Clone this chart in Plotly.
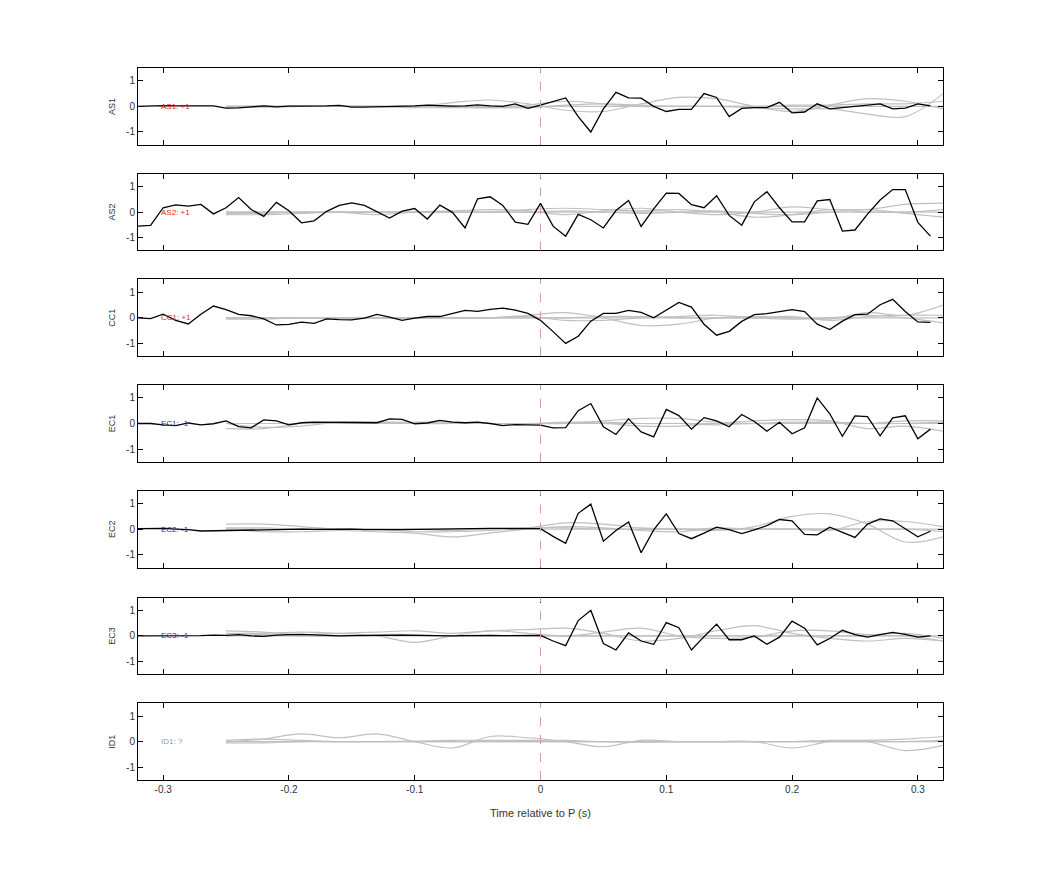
import numpy as np
import plotly.graph_objects as go

stations = ["AS1", "AS2", "CC1", "EC1", "EC2", "EC3", "ID1"]
labels = ["AS1: +1", "AS2: +1", "CC1: +1", "EC1: -1", "EC2: -1", "EC3: -1", "ID1: ?"]
label_colors = ["#e31a1c", "#e31a1c", "#e31a1c", "#1f1fbf", "#1f1fbf", "#1f1fbf", "#999999"]

t_black = [round(-0.32 + 0.01 * i, 2) for i in range(64)]

as1 = [0, 0.02, 0.03, 0.02, 0.02, 0.02, 0.02, -0.07, -0.06, -0.02, 0.02, -0.02, 0.01, 0.01, 0.01, 0.02,
       0.04, -0.03, -0.03, -0.02, 0.0, 0.01, 0.02, 0.05, 0.02, 0.01, 0.02, 0.06, 0.02, 0.0, 0.1, -0.08,
       0.05, 0.2, 0.33, -0.4, -1.0, -0.1, 0.55, 0.33, 0.32, 0.0, -0.2, -0.12, -0.12, 0.5, 0.35, -0.4,
       -0.08, -0.05, -0.05, 0.16, -0.25, -0.22, 0.1, -0.1, -0.05, 0.0, 0.05, 0.1, -0.1, -0.07, 0.1, 0.02]
as2 = [-0.55, -0.52, 0.17, 0.28, 0.23, 0.3, -0.07, 0.17, 0.57, 0.1, -0.17, 0.38, 0.05, -0.42, -0.34, 0.03,
       0.26, 0.36, 0.26, 0.01, -0.23, 0.04, 0.14, -0.27, 0.27, -0.01, -0.62, 0.52, 0.6, 0.26, -0.39, -0.48,
       0.34, -0.55, -0.94, -0.09, -0.3, -0.62, 0.06, 0.45, -0.56, 0.13, 0.74, 0.73, 0.29, 0.17, 0.64, -0.13,
       -0.51, 0.4, 0.8, 0.17, -0.38, -0.38, 0.44, 0.49, -0.74, -0.7, -0.08, 0.47, 0.88, 0.88, -0.4, -0.94]
cc1 = [0, -0.03, 0.14, -0.1, -0.24, 0.14, 0.46, 0.32, 0.13, 0.08, -0.04, -0.28, -0.26, -0.17, -0.22, -0.04,
       -0.07, -0.08, -0.01, 0.13, 0.03, -0.1, -0.01, 0.05, 0.05, 0.16, 0.29, 0.25, 0.33, 0.38, 0.3, 0.17,
       -0.1, -0.54, -1.0, -0.72, -0.13, 0.17, 0.17, 0.29, 0.21, 0.0, 0.29, 0.6, 0.42, -0.25, -0.68, -0.53,
       -0.14, 0.12, 0.16, 0.24, 0.32, 0.24, -0.25, -0.46, -0.13, 0.12, 0.14, 0.51, 0.72, 0.25, -0.16, -0.18]
ec1 = [0, 0, -0.05, -0.08, 0.02, -0.05, -0.01, 0.1, -0.12, -0.17, 0.14, 0.1, -0.05, 0.03, 0.05, 0.05,
       0.05, 0.05, 0.05, 0.03, 0.18, 0.16, -0.01, 0.02, 0.12, 0.05, 0.03, 0.05, 0.0, -0.08, -0.04, -0.04,
       -0.06, -0.17, -0.16, 0.5, 0.78, -0.13, -0.43, 0.18, -0.33, -0.52, 0.55, 0.31, -0.22, 0.23, 0.1, -0.13,
       0.35, 0.08, -0.3, 0.05, -0.4, -0.17, 1.0, 0.38, -0.5, 0.3, 0.27, -0.48, 0.22, 0.3, -0.6, -0.22]
ec2 = [0.02, 0.03, 0.03, 0.0, -0.02, -0.07, -0.06, -0.05, -0.03, -0.02, -0.01, 0.0, 0.0, 0.0, -0.01, 0.0,
       0.01, 0.0, -0.02, -0.03, -0.02, -0.02, -0.01, -0.01, 0.0, 0.01, 0.02, 0.02, 0.03, 0.03, 0.03, 0.03,
       0.02, -0.28, -0.55, 0.62, 0.98, -0.47, -0.05, 0.28, -0.92, -0.03, 0.6, -0.17, -0.37, -0.15, 0.08, -0.02,
       -0.17, -0.03, 0.14, 0.38, 0.33, -0.2, -0.22, 0.08, -0.12, -0.32, 0.2, 0.4, 0.33, 0.0, -0.3, -0.08]
ec3 = [0.0, 0.0, 0.02, 0.0, 0.0, 0.01, 0.03, 0.02, 0.05, 0.0, -0.02, 0.03, 0.05, 0.06, 0.04, 0.02,
       0.0, 0.01, 0.02, 0.01, 0.02, 0.03, 0.02, 0.01, 0.0, 0.0, 0.01, 0.02, 0.02, 0.01, 0.01, 0.01,
       0.02, -0.2, -0.38, 0.6, 1.0, -0.3, -0.55, 0.12, -0.2, -0.33, 0.52, 0.32, -0.55, -0.03, 0.46, -0.15,
       -0.15, 0.0, -0.33, -0.05, 0.58, 0.3, -0.35, -0.1, 0.22, 0.05, -0.05, 0.05, 0.14, 0.06, -0.05, 0.0]
black_series = [as1, as2, cc1, ec1, ec2, ec3, None]

t_gray = [-0.25, -0.22, -0.19, -0.16, -0.13, -0.10, -0.07, -0.04, -0.01, 0.02,
          0.05, 0.08, 0.11, 0.14, 0.17, 0.20, 0.23, 0.26, 0.29, 0.32]
gray_series = [
    [[0, 0, 0, 0, 0, 0, 0, -0.05, -0.05, 0.05, 0.1, 0.05, 0, 0, 0, 0.05, 0.05, 0.1, 0.1, 0.2],
     [0, 0, 0, 0, 0, 0, 0.15, 0.25, 0.1, -0.15, -0.2, 0.1, 0.35, 0.3, 0, -0.2, 0.05, 0.3, 0.2, -0.1],
     [-0.05, -0.03, 0, 0, 0, -0.05, -0.05, -0.05, 0.05, 0.2, 0.1, 0, 0, 0, -0.05, -0.1, -0.1, -0.3, -0.4, 0.5],
     [0, 0, 0, 0, 0, 0, 0, 0, 0, 0, 0, 0, 0, 0, 0, 0, 0, 0, 0, 0]],
    [[0, 0, 0, 0, 0, 0, 0, 0, 0.1, 0.15, 0.1, 0.05, 0.1, 0, -0.2, -0.1, 0.1, 0, 0, 0.1],
     [-0.05, -0.05, 0, 0, -0.1, 0, 0.05, 0.1, 0.05, -0.1, 0.05, 0.15, 0, -0.1, 0, 0.2, 0.1, 0.1, 0.3, 0.35],
     [-0.1, -0.1, -0.05, 0, 0, 0, 0, 0, 0, 0.05, 0, -0.05, 0, 0.05, -0.05, -0.1, 0, 0.1, -0.05, -0.2],
     [0, 0, 0, 0, 0, 0, 0, 0, 0, 0, 0, 0, 0, 0, 0, 0, 0, 0, 0, 0]],
    [[0, 0, 0, 0, 0, 0, 0, 0, 0.1, 0.2, 0, -0.3, -0.25, 0, 0.05, 0, -0.05, 0.2, 0.1, 0.5],
     [-0.05, -0.05, 0, 0, 0, 0, 0, 0, 0.05, -0.1, -0.1, 0, 0.05, 0.1, 0, -0.05, 0, 0.1, 0, -0.2],
     [0, 0, 0, 0, 0, 0, 0, 0, 0, 0, 0.05, 0.05, 0, 0, 0, 0.05, -0.1, 0.05, 0.1, 0.1],
     [0, 0, 0, 0, 0, 0, 0, 0, 0, 0, 0, 0, 0, 0, 0, 0, 0, 0, 0, 0]],
    [[-0.2, -0.2, 0, 0.05, 0.05, 0.05, 0.05, 0, 0, 0, 0.1, 0.2, 0.2, 0.05, 0, 0, 0.05, 0, 0.1, 0.1],
     [0, -0.15, -0.1, 0.05, 0.05, 0, 0, 0, 0, 0, 0, -0.1, -0.1, 0, 0.1, 0.15, 0.1, -0.2, -0.1, -0.3],
     [0, 0, 0, 0, 0, 0, 0, 0, 0, 0.05, 0.05, 0, 0, -0.05, 0, 0.05, 0.05, 0, 0, 0.05],
     [0, 0, 0, 0, 0, 0, 0, 0, 0, 0, 0, 0, 0, 0, 0, 0, 0, 0, 0, 0]],
    [[0.2, 0.2, 0.1, 0, 0, -0.1, -0.1, -0.05, 0.05, 0.25, 0.2, 0.05, 0, -0.05, 0.1, 0.5, 0.6, 0.2, -0.5, -0.3],
     [0, -0.1, -0.1, -0.05, -0.1, -0.15, -0.3, -0.15, 0, 0.1, 0.05, -0.05, -0.1, 0.05, 0, 0, -0.05, 0.3, 0.3, 0.1],
     [0.05, 0.05, 0, 0, 0, 0, -0.05, 0, 0.05, 0.05, 0, 0, 0, 0, 0, 0, 0, 0, 0, -0.1],
     [0, 0, 0, 0, 0, 0, 0, 0, 0, 0, 0, 0, 0, 0, 0, 0, 0, 0, 0, 0]],
    [[0.2, 0.15, 0.05, 0.1, 0.15, 0.2, 0.1, 0.2, 0.25, 0.3, 0.1, -0.2, -0.1, 0.2, 0.4, 0.1, -0.1, -0.2, -0.1, -0.2],
     [0.1, 0.1, 0.15, 0.1, 0.0, -0.25, 0.0, 0.2, 0.1, 0.0, 0.15, 0.3, 0.0, -0.1, -0.05, 0.2, 0.2, 0.05, 0.1, -0.1],
     [0, 0.05, 0, 0, 0.05, 0.05, 0, 0, 0, 0, 0, 0, 0, 0, 0, 0, 0, 0, 0, -0.2],
     [0, 0, 0, 0, 0, 0, 0, 0, 0, 0, 0, 0, 0, 0, 0, 0, 0, 0, 0, 0]],
    [[0, 0.1, 0.3, 0.15, 0.3, 0, -0.25, 0.2, 0.15, 0, -0.2, 0.05, 0, 0, 0, -0.25, 0, 0, -0.35, -0.15],
     [0.05, 0.1, 0.05, 0, 0, 0.02, 0.05, 0.05, 0.05, 0.05, 0, -0.02, 0, 0, 0, 0, 0.05, 0.05, 0.1, 0.2],
     [-0.05, -0.05, 0, 0, 0, 0, 0, 0, 0, 0, 0, 0, 0, 0, 0, 0, 0, 0, 0, 0.05],
     [0, 0, 0, 0, 0, 0, 0, 0, 0, 0, 0, 0, 0, 0, 0, 0, 0, 0, 0, 0]],
]
x_ticks = [-0.3, -0.2, -0.1, 0, 0.1, 0.2, 0.3]
x_ticktext = ["-0.3", "-0.2", "-0.1", "0", "0.1", "0.2", "0.3"]
y_ticks = [-1, 0, 1]
y_ticktext = ["-1", "0", "1"]

H = 875.0
panel_px = [(66, 142), (172, 248), (278, 354), (384, 460), (490, 566), (597, 673), (703, 779)]


def adj(p):
    return p - 7 - 2.0 * (p - 66) / 713.0 + 2.0


fig = go.Figure()
layout = dict(width=1042, height=875, margin=dict(l=130, r=107, t=0, b=0),
              paper_bgcolor="white", plot_bgcolor="white", showlegend=False,
              font=dict(family="Liberation Sans, Arial, sans-serif", size=10, color="#333333"))
annotations = []
shapes = []
for i, st in enumerate(stations):
    n = i + 1
    xa = "x" if n == 1 else f"x{n}"
    ya = "y" if n == 1 else f"y{n}"
    top, bot = adj(panel_px[i][0]) - 1, adj(panel_px[i][1])
    for g in gray_series[i]:
        fig.add_trace(go.Scatter(x=t_gray, y=g, mode="lines", line=dict(color="#c0c0c0", width=1.2, shape="spline"),
                                 xaxis=xa, yaxis=ya, hoverinfo="skip"))
    if black_series[i] is not None:
        fig.add_trace(go.Scatter(x=t_black, y=black_series[i], mode="lines", line=dict(color="black", width=1.3),
                                 xaxis=xa, yaxis=ya))
    shapes.append(dict(type="line", xref=xa, yref=f"{ya} domain", x0=0, x1=0, y0=0, y1=1,
                       line=dict(color="#c8a0a0", width=1, dash="dash")))
    annotations.append(dict(x=-0.303, y=0, xref=xa, yref=ya, text=labels[i], showarrow=False,
                            xanchor="left", yanchor="middle", font=dict(size=8, color=label_colors[i])))
    common = dict(showline=True, linecolor="black", linewidth=1, mirror="ticks", ticks="inside",
                  ticklen=5, tickcolor="black", showgrid=False, zeroline=False, automargin=False)
    layout["xaxis" if n == 1 else f"xaxis{n}"] = dict(
        domain=[0, 1], range=[-0.32, 0.32], anchor=ya, tickvals=x_ticks, ticktext=x_ticktext,
        showticklabels=(n == 7), tickfont=dict(size=10),
        title=dict(text="Time relative to P (s)", font=dict(size=11)) if n == 7 else None, **common)
    layout["yaxis" if n == 1 else f"yaxis{n}"] = dict(
        domain=[1 - bot / H, 1 - top / H], range=[-1.5, 1.5], anchor=xa, tickvals=y_ticks, ticktext=y_ticktext,
        tickfont=dict(size=10), title=dict(text=st, font=dict(size=9), standoff=8), **common)
layout["annotations"] = annotations
layout["shapes"] = shapes
fig.update_layout(**layout)
fig.write_html("out.html")
